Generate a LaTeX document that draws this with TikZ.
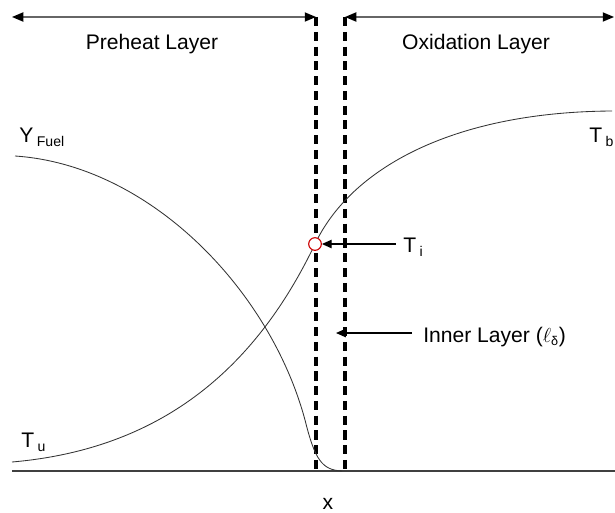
\documentclass[tikz,border=0pt]{standalone}
\usepackage{fontspec}
\setmainfont{Liberation Sans}
\usetikzlibrary{arrows.meta}
\newcommand{\lowsub}[1]{\raisebox{-3pt}{\fontsize{10}{11}\selectfont #1}}
\tikzset{
    lbl/.style={font=\fontsize{15}{18}\selectfont, inner sep=0pt},
    bound/.style={line width=2.4pt, dash pattern=on 6.5pt off 4pt},
    curve/.style={line width=0.6pt, black!80},
    span/.style={line width=1pt, black!60, {Triangle[length=8pt,width=6.5pt,black]}-{Triangle[length=8pt,width=6.5pt,black]}},
    pointer/.style={line width=0.9pt, -{Triangle[length=7pt,width=6pt]}}
}
\begin{document}
\begin{tikzpicture}[x=0.025cm, y=-0.025cm]
    \useasboundingbox (0,0) rectangle (615,512);
    % layer boundaries
    \coordinate (L1) at (316,17);
    \coordinate (L2) at (345,17);
    \coordinate (L1b) at (316,471);
    \coordinate (L2b) at (345,471);
    \coordinate (A) at (12,17);
    \coordinate (B) at (614,17);
    \draw[span] (A) -- (L1);
    \draw[span] (L2) -- (B);
    \draw[bound] (L1) -- (L1b);
    \draw[bound] (L2) -- (L2b);
    % axis
    \coordinate (O) at (12,471);
    \coordinate (E) at (615,471);
    \draw[line width=0.8pt, black!75] (O) -- (E);
    % temperature profile
    \coordinate (Tu) at (12,462);
    \coordinate (Tm) at (315,244);
    \coordinate (Tb) at (612,111);
    \draw[curve] (Tu) .. controls (150,450) and (250,380) .. (Tm)
        .. controls (350,170) and (450,112) .. (Tb);
    % fuel mass fraction
    \coordinate (Y0) at (15,156);
    \coordinate (Ym) at (305,420);
    \coordinate (Y1) at (342,471);
    \draw[curve] (Y0) .. controls (150,165) and (270,290) .. (Ym)
        .. controls (315,460) and (322,470) .. (Y1);
    \node[circle, draw=red!80!black, fill=white, line width=0.8pt,
        minimum size=9pt, inner sep=0pt] (Ti) at (Tm) {};
    % labels
    \node[lbl] (pre) at (152,44) {Preheat Layer};
    \node[lbl] (oxi) at (476,44) {Oxidation Layer};
    \node[lbl, anchor=base west] (yf) at (19,142) {Y\,\lowsub{Fuel}};
    \node[lbl, anchor=base west] (tb) at (589,142) {T\,\lowsub{b}};
    \node[lbl, anchor=base west] (tu) at (21,447) {T\,\lowsub{u}};
    \node[lbl, anchor=base west] (til) at (403,252) {T\,\lowsub{i}};
    \node[lbl, anchor=base west] (inn) at (423,342) {Inner Layer ($\ell_{\textup{\fontsize{9}{10}\selectfont δ}}$)};
    \node[lbl] (xl) at (328,504) {x};
    \draw[pointer] ([xshift=-5pt]til.west |- Ti) -- (Ti.east);
    \coordinate (P) at (336,333);
    \draw[pointer] (inn.west |- P) ++(-11,0) -- (P);
\end{tikzpicture}
\end{document}
